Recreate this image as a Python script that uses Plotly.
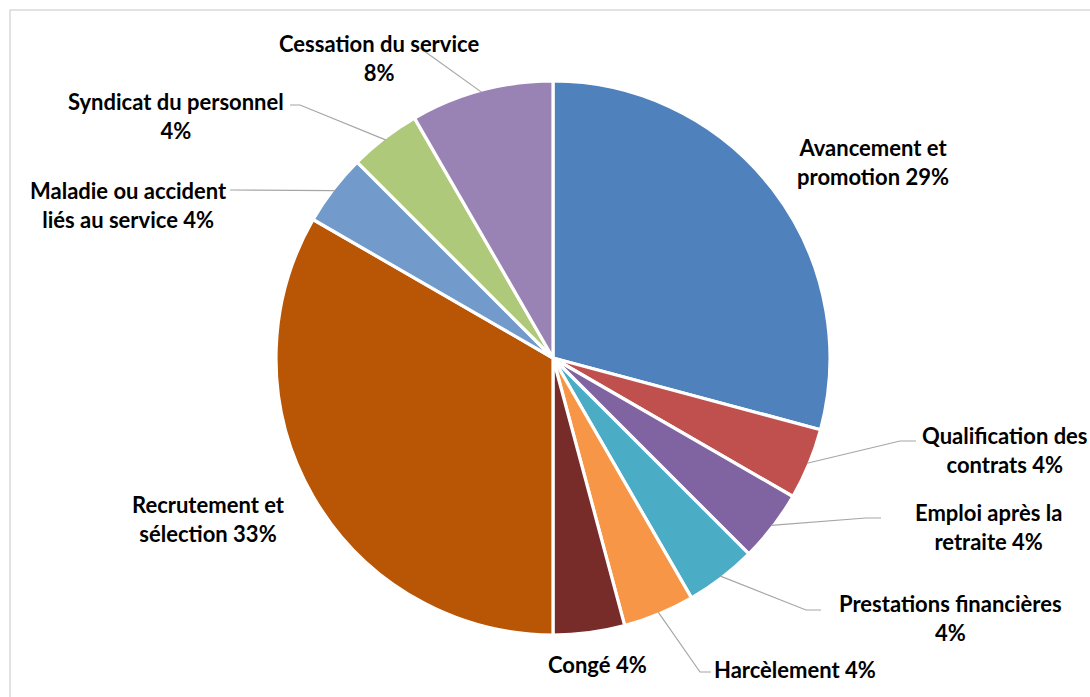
import math
import plotly.graph_objects as go

# Data (counts, total 24)
categories = [
    "Avancement et promotion", "Qualification des contrats", "Emploi après la retraite",
    "Prestations financières", "Harcèlement", "Congé", "Recrutement et sélection",
    "Maladie ou accident liés au service", "Syndicat du personnel", "Cessation du service",
]
values = [7, 1, 1, 1, 1, 1, 8, 1, 1, 2]
label_texts = [
    "Avancement et<br>promotion 29%", "Qualification des<br>contrats 4%", "Emploi après la<br>retraite 4%",
    "Prestations financières<br>4%", "Harcèlement 4%", "Congé 4%", "Recrutement et<br>sélection 33%",
    "Maladie ou accident<br>liés au service 4%", "Syndicat du personnel<br>4%", "Cessation du service<br>8%",
]
colors = ["#4F81BD", "#C0504D", "#8064A2", "#4BACC6", "#F79646", "#772C2A",
          "#B85606", "#729ACA", "#AFC97A", "#9983B5"]

W, H = 1090, 697
CX, CY, R = 553, 358, 277

# label positions (pixel centers) and leader elbow points (None = no leader)
label_pos = [(873, 162), (1005, 450), (988, 527), (950, 618), (795, 669), (597, 664),
             (208, 519), (128, 205), (176, 116), (379, 58)]
elbows = [None, [(900, 441), (916, 441)], [(866, 518), (881, 518)], [(806, 610), (821, 610)],
          [(700, 672), (711, 672)], None, None, [(230, 190)], [(300, 105), (290, 105)],
          [(420, 48)]]

def px(x):
    return x / W

def py(y):
    return 1 - y / H

fig = go.Figure(go.Pie(
    labels=categories, values=values, sort=False, direction="clockwise", rotation=0,
    marker=dict(colors=colors, line=dict(color="white", width=3.2)),
    textinfo="none", hoverinfo="label+percent", showlegend=False,
    domain=dict(x=[px(CX - R), px(CX + R)], y=[py(CY + R), py(CY - R)]),
))

total = sum(values)
cum = 0
shapes = []
annotations = []
for i, v in enumerate(values):
    mid = (cum + v / 2) / total * 2 * math.pi
    cum += v
    ex = CX + (R - 2) * math.sin(mid)
    ey = CY - (R - 2) * math.cos(mid)
    if elbows[i]:
        pts = [(ex, ey)] + elbows[i]
        path = "M " + " L ".join(f"{px(x):.5f},{py(y):.5f}" for x, y in pts)
        shapes.append(dict(type="path", path=path, xref="paper", yref="paper",
                           line=dict(color="#A6A6A6", width=1.2)))
    lx, ly = label_pos[i]
    annotations.append(dict(x=px(lx), y=py(ly), xref="paper", yref="paper",
                            text=label_texts[i], showarrow=False, align="center",
                            xanchor="center", yanchor="middle",
                            font=dict(family="Lato", size=22, color="#000000", weight="bold")))

shapes.append(dict(type="rect", xref="paper", yref="paper", x0=px(10), x1=px(1120),
                   y0=py(720), y1=py(10), line=dict(color="#D9D9D9", width=1.5),
                   fillcolor="rgba(0,0,0,0)", layer="below"))

fig.update_layout(
    width=W, height=H, margin=dict(l=0, r=0, t=0, b=0),
    paper_bgcolor="white", plot_bgcolor="white",
    shapes=shapes, annotations=annotations,
)

fig.write_html("out.html", config={"displayModeBar": False},
               post_script="document.body.style.margin='0';document.body.style.overflow='hidden';")
